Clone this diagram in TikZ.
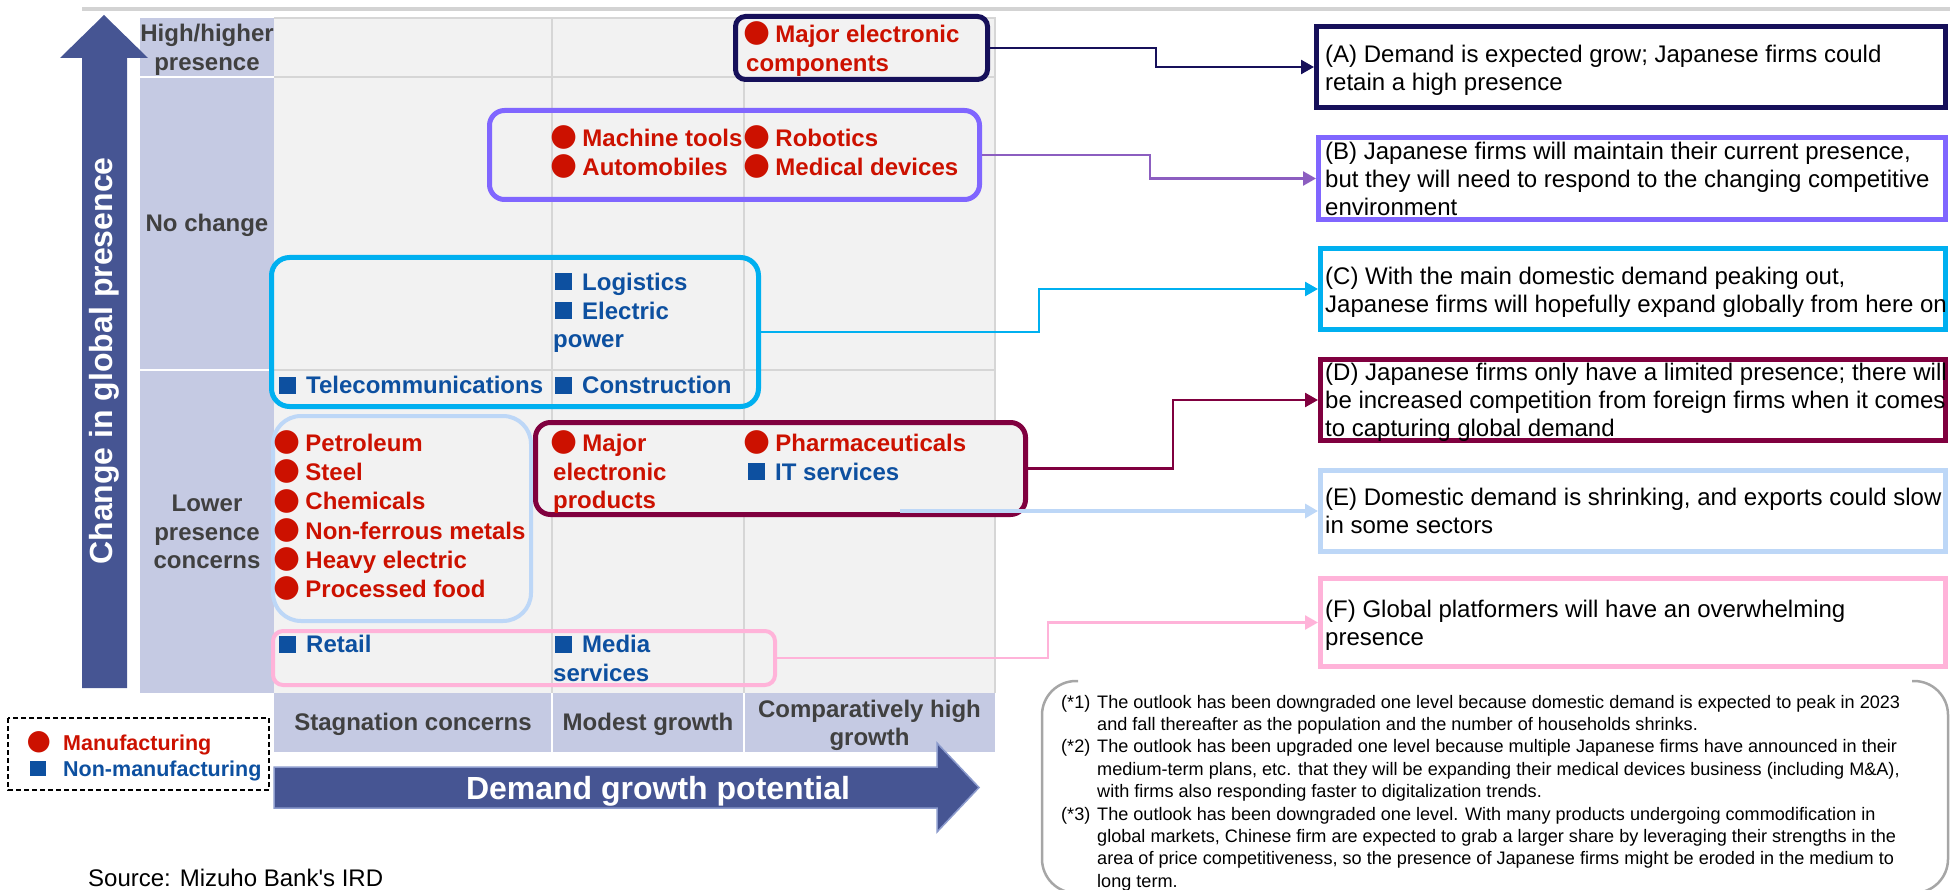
\documentclass[tikz,border=0pt]{standalone}
\usepackage{fontspec}
\setmainfont{Liberation Sans}
\newfontfamily\symf{DejaVu Sans}
\usetikzlibrary{arrows.meta}
\definecolor{cNavy}{HTML}{16105A}
\definecolor{cPurple}{HTML}{8066FF}
\definecolor{cPurpleLn}{HTML}{8C5EC0}
\definecolor{cCyan}{HTML}{00B0F0}
\definecolor{cMaroon}{HTML}{80003F}
\definecolor{cLtBlue}{HTML}{BDD7F7}
\definecolor{cPink}{HTML}{FFB3D9}
\definecolor{cRed}{HTML}{CC1100}
\definecolor{cBlue}{HTML}{0D50A0}
\definecolor{cArrow}{HTML}{465593}
\definecolor{cArrowEdge}{HTML}{8C9BCD}
\definecolor{cLav}{HTML}{C5CAE3}
\definecolor{cGridBg}{HTML}{F2F2F2}
\definecolor{cGridLn}{HTML}{D6D6D6}
\definecolor{cGrayTxt}{HTML}{404040}
\definecolor{cTopLn}{HTML}{D3D3D3}
\definecolor{cNote}{HTML}{A6A6A6}
\newcommand{\rdot}{{\symf\fontsize{31}{31}\selectfont\hspace*{-2.9pt}\raisebox{0.75pt}{●}}\hspace*{5.1pt}}
\newcommand{\bsq}{\hspace*{2pt}\rule{17pt}{17pt}\hspace*{10pt}}
\newcommand{\legdot}{{\symf\fontsize{28}{28}\selectfont\hspace*{-2.7pt}\raisebox{0.7pt}{●}}}
\newcommand{\legsq}{\hspace*{1pt}\rule{16pt}{15.5pt}}
\newcommand{\seclist}[1]{\begin{tabular}[t]{@{}l@{}}#1\end{tabular}}
\newcommand{\ctrlist}[1]{\begin{tabular}[t]{@{}c@{}}#1\end{tabular}}
\newcommand{\nlab}[1]{\makebox[36pt][l]{#1}}
\begin{document}
\begin{tikzpicture}[x=1pt,y=-1pt,
  sec/.style={anchor=base west, inner sep=0pt, font=\bfseries\fontsize{24}{28.6}\selectfont, text=cRed},
  rowlbl/.style={anchor=base, inner sep=0pt, font=\bfseries\fontsize{24}{28.6}\selectfont, text=cGrayTxt},
  gbox/.style={draw, inner sep=0pt, rounded corners=#1},
  rbox/.style={draw, fill=white, line width=5pt, inner sep=0pt},
  rtxt/.style={anchor=base west, inner sep=0pt, font=\fontsize{24}{28}\selectfont, text=black},
  cn/.style={line width=2.5pt, -{Triangle[length=13pt,width=14pt]}},
  gridln/.style={cGridLn, line width=1.5pt},
  sepln/.style={white, line width=2pt}]
\useasboundingbox (0,0) rectangle (1950,890);
% top rule
\draw[cTopLn, line width=3.5pt] (82,9) -- (1950,9);
% grid
\fill[cGridBg] (274,18) rectangle (995,693);
\draw[gridln] (274,18) -- (995,18) -- (995,693);
\draw[gridln] (552,18) -- (552,693);
\draw[gridln] (744,18) -- (744,693);
\draw[gridln] (274,77) -- (995,77);
\draw[gridln] (274,370) -- (995,370);
% row label column
\fill[cLav] (140,18) rectangle (274,693);
\draw[sepln] (140,77) -- (274,77);
\draw[sepln] (140,370) -- (274,370);
% header row
\fill[cLav] (274,693) rectangle (995,752);
\draw[sepln] (552,693) -- (552,752);
\draw[sepln] (744,693) -- (744,752);
% axis arrows
\fill[cArrow] (82,688) -- (82,58) -- (60,58) -- (104,15) -- (148,58) -- (127,58) -- (127,688) -- cycle;
\filldraw[fill=cArrow, draw=cArrowEdge, line width=1.5pt] (274,767) -- (937,767) -- (937,743) -- (979,787.5) -- (937,832) -- (937,808) -- (274,808) -- cycle;
\node[rotate=90, font=\bfseries\fontsize{32}{32}\selectfont, text=white, inner sep=0pt] (yl) at (104.5,361) {Change in global presence};
\node[anchor=base, font=\bfseries\fontsize{32}{32}\selectfont, text=white, inner sep=0pt] (xl) at (658,799) {Demand growth potential};
% group boxes
\node[gbox=10pt, draw=cNavy, fill=cGridBg, line width=5pt, minimum width=252pt, minimum height=63pt] (gA) at (861.5,48) {};
\node[gbox=15pt, draw=cPurple, line width=5pt, minimum width=490pt, minimum height=89pt] (gB) at (734.5,155) {};
\node[gbox=18pt, draw=cCyan, line width=5pt, minimum width=487pt, minimum height=149pt] (gC) at (515,332) {};
\node[gbox=28pt, draw=cLtBlue, line width=4pt, minimum width=258pt, minimum height=205pt] (gE) at (402,518.5) {};
\node[gbox=15pt, draw=cMaroon, fill=cGridBg, line width=5pt, minimum width=490pt, minimum height=92pt] (gD) at (780.5,468.5) {};
\node[gbox=10pt, draw=cPink, line width=4pt, minimum width=502pt, minimum height=54pt] (gF) at (524,658) {};
% right boxes
\node[rbox, draw=cNavy, minimum width=629pt, minimum height=81pt] (bA) at (1631,67) {};
\node[rbox, draw=cPurple, minimum width=627pt, minimum height=82pt] (bB) at (1632,178.5) {};
\node[rbox, draw=cCyan, minimum width=625pt, minimum height=81pt] (bC) at (1633,289) {};
\node[rbox, draw=cMaroon, minimum width=625pt, minimum height=81pt] (bD) at (1633,400) {};
\node[rbox, draw=cLtBlue, minimum width=625pt, minimum height=81pt] (bE) at (1633,511) {};
\node[rbox, draw=cPink, minimum width=625pt, minimum height=88pt] (bF) at (1633,622.5) {};
% connectors
\draw[cn, cNavy] (gA.east) -- ++(166,0) |- (bA.west);
\draw[cn, cPurpleLn] (gB.east) -- ++(168,0) |- (bB.west);
\draw[cn, cCyan] (gC.east) -- ++(278,0) |- (bC.west);
\draw[cn, cMaroon] (gD.east) -- ++(145,0) |- (bD.west);
\coordinate (eS) at (900,511);
\draw[cn, cLtBlue, line width=3.5pt] (eS) -- (bE.west);
\draw[cn, cPink] (gF.east) -- ++(271,0) |- (bF.west);
% row and column labels
\node[rowlbl] (rH) at (207,42) {\ctrlist{High/higher\\presence}};
\node[rowlbl] (rN) at (207,232) {No change};
\node[rowlbl] (rL) at (207,511.5) {\ctrlist{Lower\\presence\\concerns}};
\node[rowlbl] (hS) at (413,730.5) {Stagnation concerns};
\node[rowlbl] (hM) at (648,730.5) {Modest growth};
\node[rowlbl] (hC) at (869.5,717) {\ctrlist{Comparatively high\\growth}};
% sectors
\node[sec] (tMEC) at (746,42.5) {\seclist{\rdot Major electronic\\components}};
\node[sec] (tMT) at (553,146.5) {\seclist{\rdot Machine tools\\\rdot Automobiles}};
\node[sec] (tRB) at (746,146.5) {\seclist{\rdot Robotics\\\rdot Medical devices}};
\node[sec, text=cBlue] (tLG) at (553,290.5) {\seclist{\bsq Logistics\\\bsq Electric\\power}};
\node[sec, text=cBlue] (tTC) at (277,393.5) {\seclist{\bsq Telecommunications}};
\node[sec, text=cBlue] (tCN) at (553,393.5) {\seclist{\bsq Construction}};
\node[sec] (tPT) at (276,451.5) {\seclist{\rdot Petroleum\\\rdot Steel\\\rdot Chemicals\\\rdot Non-ferrous metals\\\rdot Heavy electric\\\rdot Processed food}};
\node[sec] (tMEP) at (553,451.5) {\seclist{\rdot Major\\electronic\\products}};
\node[sec] (tPH) at (746,451.5) {\seclist{\rdot Pharmaceuticals\\\color{cBlue}\bsq IT services}};
\node[sec, text=cBlue] (tRT) at (277,652.5) {\seclist{\bsq Retail}};
\node[sec, text=cBlue] (tMS) at (553,652.5) {\seclist{\bsq Media\\services}};
% right box texts
\node[rtxt] (tA) at (1325,62.7) {\seclist{(A) Demand is expected grow; Japanese firms could\\retain a high presence}};
\node[rtxt] (tB) at (1325,159.7) {\seclist{(B) Japanese firms will maintain their current presence,\\but they will need to respond to the changing competitive\\environment}};
\node[rtxt] (tC) at (1325,284.7) {\seclist{(C) With the main domestic demand peaking out,\\Japanese firms will hopefully expand globally from here on}};
\node[rtxt] (tD) at (1325,380.7) {\seclist{(D) Japanese firms only have a limited presence; there will\\be increased competition from foreign firms when it comes\\to capturing global demand}};
\node[rtxt] (tE) at (1325,505.7) {\seclist{(E) Domestic demand is shrinking, and exports could slow\\in some sectors}};
\node[rtxt] (tF) at (1325,617.7) {\seclist{(F) Global platformers will have an overwhelming\\presence}};
% legend
\draw[black, line width=1.5pt, dash pattern=on 5pt off 3pt] (8,718) rectangle (269,790);
\node[anchor=base west, inner sep=0pt, font=\bfseries\fontsize{21.5}{26}\selectfont] (leg) at (29,750) {\begin{tabular}[t]{@{}l@{}l@{}}\makebox[34pt][l]{\color{cRed}\legdot} & \textcolor{cRed}{Manufacturing}\\ \makebox[34pt][l]{\color{cBlue}\legsq} & \textcolor{cBlue}{Non-manufacturing}\end{tabular}};
% source
\node[anchor=base west, inner sep=0pt, font=\fontsize{24}{28}\selectfont] (src) at (88,886) {Source: Mizuho Bank\textquotesingle s IRD};
% notes
\draw[cNote, line width=2.5pt, rounded corners=34pt] (1078,681) -- (1042,681) -- (1042,893) -- (1078,893);
\draw[cNote, line width=2.5pt, rounded corners=34pt] (1912,681) -- (1948,681) -- (1948,893) -- (1912,893);
\node[anchor=base west, inner sep=0pt, font=\fontsize{18.1}{22.4}\selectfont] (nt) at (1061,708) {\begin{tabular}[t]{@{}l@{}l@{}}
\nlab{(*1)} & The outlook has been downgraded one level because domestic demand is expected to peak in 2023\\
 & and fall thereafter as the population and the number of households shrinks.\\
\nlab{(*2)} & The outlook has been upgraded one level because multiple Japanese firms have announced in their\\
 & medium-term plans, etc. that they will be expanding their medical devices business (including M\&A),\\
 & with firms also responding faster to digitalization trends.\\
\nlab{(*3)} & The outlook has been downgraded one level. With many products undergoing commodification in\\
 & global markets, Chinese firm are expected to grab a larger share by leveraging their strengths in the\\
 & area of price competitiveness, so the presence of Japanese firms might be eroded in the medium to\\
 & long term.
\end{tabular}};
\end{tikzpicture}
\end{document}
